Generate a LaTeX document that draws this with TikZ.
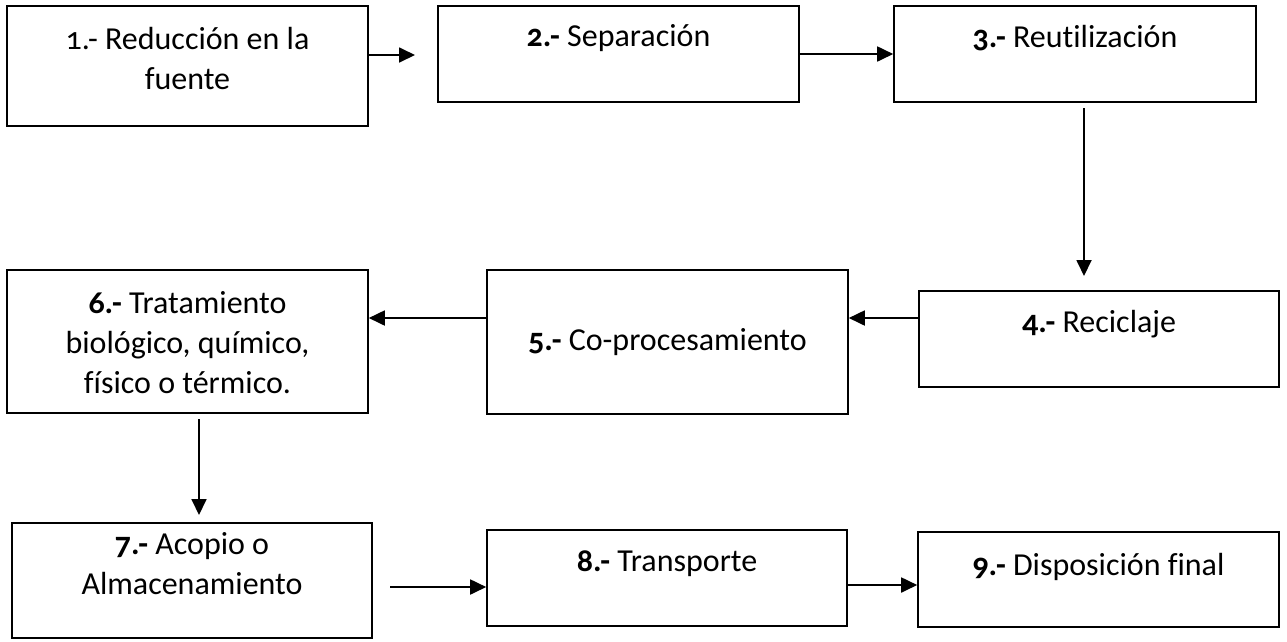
\documentclass[tikz,border=0pt]{standalone}
\usepackage{fontspec}
\setmainfont[Numbers=OldStyle,Ligatures={TeX,NoCommon}]{Carlito}
\usetikzlibrary{arrows.meta}
\begin{document}
\begin{tikzpicture}[x=1pt,y=-1pt,
  box/.style={draw=black, line width=1.6pt, inner sep=0pt},
  txt/.style={font=\fontsize{32}{40}\selectfont, align=center, inner sep=0pt},
  arr/.style={line width=1.8pt, -{Triangle[length=16pt,width=15pt]}}]
\useasboundingbox[fill=white] (0,0) rectangle (1287,641);
% boxes
\node[box, minimum width=361, minimum height=120] (b1) at (187.5,66) {};
\node[box, minimum width=361, minimum height=96] (b2) at (618.5,54) {};
\node[box, minimum width=362, minimum height=96] (b3) at (1075,54) {};
\node[box, minimum width=360, minimum height=96] (b4) at (1099,339) {};
\node[box, minimum width=361, minimum height=144] (b5) at (667.5,342) {};
\node[box, minimum width=361, minimum height=143] (b6) at (187.5,341.5) {};
\node[box, minimum width=360, minimum height=115] (b7) at (192,580.5) {};
\node[box, minimum width=360, minimum height=96] (b8) at (667,578) {};
\node[box, minimum width=361, minimum height=95] (b9) at (1098.5,579.5) {};
% texts
\node[txt] (t1) at (187.5,59) {1.- Reducción en la\\fuente};
\node[txt] (t2) at (618.5,38) {\textbf{2.-} Separación};
\node[txt] (t3) at (1075,38) {\textbf{3.-} Reutilización};
\node[txt] (t4) at (1099,324) {\textbf{4.-} Reciclaje};
\node[txt] (t5) at (667.5,342) {\textbf{5.-} Co-procesamiento};
\node[txt] (t6) at (187.5,343) {\textbf{6.-} Tratamiento\\biológico, químico,\\físico o térmico.};
\node[txt] (t7) at (192,564) {\textbf{7.-} Acopio o\\Almacenamiento};
\node[txt] (t8) at (667,564) {\textbf{8.-} Transporte};
\node[txt] (t9) at (1098.5,567) {\textbf{9.-} Disposición final};
% connector helper coordinates
\coordinate (a1) at (415,55);
\coordinate (a3s) at (1084,108);
\coordinate (a3e) at (1084,276);
\coordinate (a4) at (900,318);
\coordinate (a6s) at (199,419);
\coordinate (a6e) at (199,515);
\coordinate (a7) at (390,587);
\coordinate (a8) at (880,585);
% connectors
\draw[arr] (b1.east |- a1) -- (a1);
\draw[arr] (b2.east) -- (b3.west);
\draw[arr] (a3s) -- (a3e);
\draw[arr] (b4.west |- a4) -- (b5.east |- a4);
\draw[arr] (b5.west |- a4) -- (b6.east |- a4);
\draw[arr] (a6s) -- (a6e);
\draw[arr] (a7) -- (b8.west |- a7);
\draw[arr] (b8.east |- a8) -- (b9.west |- a8);
\end{tikzpicture}
\end{document}
